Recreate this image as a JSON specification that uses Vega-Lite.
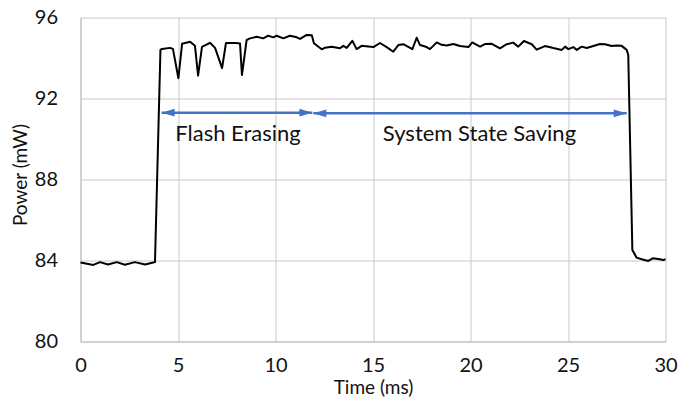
{
  "$schema": "https://vega.github.io/schema/vega-lite/v6.json",
  "width": 585,
  "height": 324,
  "autosize": "none",
  "padding": {"left": 80.5, "top": 17.5, "right": 28.5, "bottom": 60.5},
  "background": "white",
  "config": {
    "view": {"stroke": null},
    "font": "Lato",
    "axis": {
      "grid": true,
      "gridColor": "#C8C8C8",
      "gridWidth": 1,
      "domainColor": "#BFBFBF",
      "domainWidth": 1,
      "ticks": false,
      "labelFont": "Lato",
      "labelFontSize": 20,
      "labelColor": "#111111",
      "labelFlush": false,
      "labelOverlap": false,
      "labelBound": false,
      "titleFont": "Lato",
      "titleFontWeight": "normal",
      "titleColor": "#111111",
      "titleFontSize": 19
    }
  },
  "datasets": {
    "power": [
      {"t": 0, "p": 83.9}, {"t": 0.66, "p": 83.78}, {"t": 1.0, "p": 83.92}, {"t": 1.41, "p": 83.8},
      {"t": 1.86, "p": 83.92}, {"t": 2.28, "p": 83.79}, {"t": 2.79, "p": 83.92}, {"t": 3.31, "p": 83.8},
      {"t": 3.73, "p": 83.9}, {"t": 3.82, "p": 83.92}, {"t": 4.1, "p": 94.4}, {"t": 4.18, "p": 94.45},
      {"t": 4.59, "p": 94.5}, {"t": 4.74, "p": 94.45}, {"t": 5.02, "p": 93.0}, {"t": 5.21, "p": 94.7},
      {"t": 5.62, "p": 94.8}, {"t": 5.87, "p": 94.6}, {"t": 6.03, "p": 93.13}, {"t": 6.23, "p": 94.55},
      {"t": 6.64, "p": 94.75}, {"t": 6.9, "p": 94.5}, {"t": 7.26, "p": 93.5}, {"t": 7.46, "p": 94.74},
      {"t": 7.97, "p": 94.74}, {"t": 8.18, "p": 94.72}, {"t": 8.28, "p": 93.16}, {"t": 8.52, "p": 94.89},
      {"t": 8.69, "p": 94.97}, {"t": 9.04, "p": 95.05}, {"t": 9.37, "p": 94.97}, {"t": 9.63, "p": 95.1},
      {"t": 9.89, "p": 95.02}, {"t": 10.06, "p": 95.1}, {"t": 10.4, "p": 94.97}, {"t": 10.74, "p": 95.1},
      {"t": 11.09, "p": 95.02}, {"t": 11.26, "p": 94.94}, {"t": 11.6, "p": 95.14}, {"t": 11.86, "p": 95.12},
      {"t": 11.97, "p": 94.73}, {"t": 12.37, "p": 94.43}, {"t": 12.54, "p": 94.51}, {"t": 12.88, "p": 94.56},
      {"t": 13.31, "p": 94.48}, {"t": 13.48, "p": 94.6}, {"t": 13.65, "p": 94.5}, {"t": 13.94, "p": 94.85},
      {"t": 14.16, "p": 94.44}, {"t": 14.42, "p": 94.6}, {"t": 14.76, "p": 94.57}, {"t": 15.02, "p": 94.54},
      {"t": 15.36, "p": 94.74}, {"t": 15.7, "p": 94.54}, {"t": 16.04, "p": 94.31}, {"t": 16.3, "p": 94.64},
      {"t": 16.55, "p": 94.68}, {"t": 17.02, "p": 94.44}, {"t": 17.24, "p": 95.0}, {"t": 17.41, "p": 94.64},
      {"t": 17.75, "p": 94.54}, {"t": 17.92, "p": 94.44}, {"t": 18.27, "p": 94.77}, {"t": 18.52, "p": 94.65},
      {"t": 18.78, "p": 94.62}, {"t": 19.12, "p": 94.69}, {"t": 19.46, "p": 94.59}, {"t": 19.89, "p": 94.54},
      {"t": 20.09, "p": 94.77}, {"t": 20.49, "p": 94.56}, {"t": 20.74, "p": 94.69}, {"t": 21.09, "p": 94.7},
      {"t": 21.51, "p": 94.48}, {"t": 21.86, "p": 94.68}, {"t": 22.19, "p": 94.76}, {"t": 22.45, "p": 94.56},
      {"t": 22.74, "p": 94.84}, {"t": 23.14, "p": 94.68}, {"t": 23.39, "p": 94.41}, {"t": 23.82, "p": 94.59},
      {"t": 24.25, "p": 94.49}, {"t": 24.68, "p": 94.4}, {"t": 24.85, "p": 94.56}, {"t": 25.02, "p": 94.44},
      {"t": 25.27, "p": 94.54}, {"t": 25.45, "p": 94.4}, {"t": 25.7, "p": 94.56}, {"t": 25.96, "p": 94.49},
      {"t": 26.3, "p": 94.59}, {"t": 26.64, "p": 94.69}, {"t": 26.9, "p": 94.68}, {"t": 27.24, "p": 94.59},
      {"t": 27.5, "p": 94.62}, {"t": 27.75, "p": 94.6}, {"t": 28.01, "p": 94.4}, {"t": 28.09, "p": 94.15},
      {"t": 28.3, "p": 84.52}, {"t": 28.52, "p": 84.14}, {"t": 28.78, "p": 84.06}, {"t": 29.12, "p": 83.98},
      {"t": 29.34, "p": 84.11}, {"t": 29.63, "p": 84.07}, {"t": 29.89, "p": 84.02}, {"t": 30, "p": 84.07}
    ],
    "arrows": [
      {"start": 4.16, "end": 11.89, "level": 91.3},
      {"start": 11.94, "end": 28.01, "level": 91.27}
    ],
    "labels": [
      {"t": 8.08, "p": 90.27, "text": "Flash Erasing"},
      {"t": 20.46, "p": 90.27, "text": "System State Saving"}
    ]
  },
  "layer": [
    {
      "data": {"name": "power"},
      "mark": {"type": "line", "color": "#000000", "strokeWidth": 2, "strokeJoin": "round"},
      "encoding": {
        "x": {
          "field": "t", "type": "quantitative",
          "scale": {"domain": [0, 30], "nice": false, "zero": false},
          "axis": {"values": [0, 5, 10, 15, 20, 25, 30], "title": "Time (ms)", "labelPadding": 14, "titleBaseline": "middle", "titleY": 46}
        },
        "y": {
          "field": "p", "type": "quantitative",
          "scale": {"domain": [80, 96], "nice": false, "zero": false},
          "axis": {"values": [80, 84, 88, 92, 96], "title": "Power (mW)", "labelPadding": 23, "titleBaseline": "middle", "titleX": -60, "titleY": 157, "titleAngle": -90}
        }
      }
    },
    {
      "data": {"name": "arrows"},
      "mark": {"type": "rule", "color": "#4472C4", "strokeWidth": 2.5},
      "encoding": {
        "x": {"field": "start", "type": "quantitative"},
        "x2": {"field": "end"},
        "y": {"field": "level", "type": "quantitative"}
      }
    },
    {
      "data": {"name": "arrows"},
      "mark": {"type": "point", "shape": "M1,-0.6L-1,0L1,0.6Z", "size": 169, "filled": true, "color": "#4472C4", "opacity": 1, "xOffset": 6.5},
      "encoding": {
        "x": {"field": "start", "type": "quantitative"},
        "y": {"field": "level", "type": "quantitative"}
      }
    },
    {
      "data": {"name": "arrows"},
      "mark": {"type": "point", "shape": "M-1,-0.6L1,0L-1,0.6Z", "size": 169, "filled": true, "color": "#4472C4", "opacity": 1, "xOffset": -6.5},
      "encoding": {
        "x": {"field": "end", "type": "quantitative"},
        "y": {"field": "level", "type": "quantitative"}
      }
    },
    {
      "data": {"name": "labels"},
      "mark": {"type": "text", "font": "Lato", "fontSize": 22, "color": "#111111", "align": "center", "baseline": "middle"},
      "encoding": {
        "x": {"field": "t", "type": "quantitative"},
        "y": {"field": "p", "type": "quantitative"},
        "text": {"field": "text"}
      }
    }
  ]
}
